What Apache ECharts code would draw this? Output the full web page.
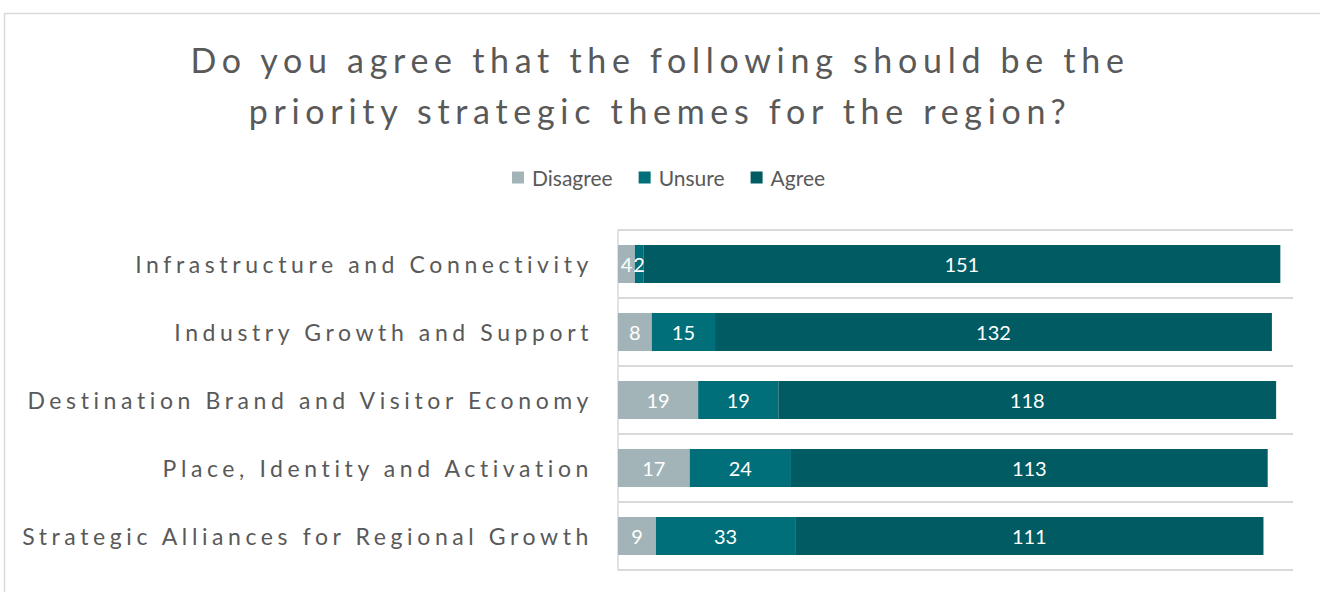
<!DOCTYPE html>
<html>
<head>
<meta charset="utf-8">
<script src="https://cdn.jsdelivr.net/npm/echarts@6/dist/echarts.min.js"></script>
<style>
  html, body { margin: 0; padding: 0; background: #ffffff; }
  #chart { width: 1320px; height: 592px; }
  /* tracked-out type for the title and the category labels */
  #chart text[style*="34px"] { letter-spacing: 5.7px; }
  #chart text[style*="23px"] { letter-spacing: 4.6px; }
</style>
</head>
<body>
<div id="chart"></div>
<script>
const titleText = 'Do you agree that the following should be the\npriority strategic themes for the region?';
const categories = [
  'Infrastructure and Connectivity',
  'Industry Growth and Support',
  'Destination Brand and Visitor Economy',
  'Place, Identity and Activation',
  'Strategic Alliances for Regional Growth'
];
const disagree = [4, 8, 19, 17, 9];
const unsure = [2, 15, 19, 24, 33];
const agree = [151, 132, 118, 113, 111];
const seriesNames = ['Disagree', 'Unsure', 'Agree'];
const seriesColors = ['#A2B4B7', '#006F79', '#015B63'];

const FONT = 'Lato, "Open Sans", sans-serif';
const TEXT_COLOR = '#595959';
const GRID_COLOR = '#D9D9D9';

const chart = echarts.init(document.getElementById('chart'), null, { renderer: 'svg' });

function barSeries(name, values, color) {
  return {
    name: name,
    type: 'bar',
    stack: 'total',
    barWidth: 38,
    data: values,
    itemStyle: { color: color },
    label: {
      show: true,
      position: 'inside',
      color: '#ffffff',
      fontFamily: FONT,
      fontSize: 20
    },
    emphasis: { disabled: true }
  };
}

chart.setOption({
  animation: false,
  backgroundColor: '#ffffff',
  graphic: [{
    type: 'rect',
    left: 2,
    top: 11,
    shape: { width: 1400, height: 700 },
    style: { fill: 'none', stroke: GRID_COLOR, lineWidth: 1.5 },
    silent: true
  }],
  title: {
    text: titleText,
    left: 'center',
    top: 29,
    textStyle: {
      fontFamily: FONT,
      fontSize: 34,
      fontWeight: 'normal',
      color: TEXT_COLOR,
      lineHeight: 51
    }
  },
  legend: {
    data: seriesNames,
    top: 162,
    left: 507,
    itemWidth: 12,
    itemHeight: 12,
    itemGap: 26,
    icon: 'rect',
    textStyle: {
      fontFamily: FONT,
      fontSize: 21,
      color: TEXT_COLOR,
      padding: [0, 0, 0, 3]
    }
  },
  grid: {
    left: 618,
    right: 27,
    top: 230,
    bottom: 22,
    containLabel: false
  },
  xAxis: {
    type: 'value',
    min: 0,
    max: 160,
    axisLine: { show: false },
    axisTick: { show: false },
    axisLabel: { show: false },
    splitLine: { show: false }
  },
  yAxis: {
    type: 'category',
    data: categories,
    inverse: true,
    axisLine: { show: true, lineStyle: { color: GRID_COLOR, width: 1.5 } },
    axisTick: { show: false },
    axisLabel: {
      fontFamily: FONT,
      fontSize: 23,
      color: TEXT_COLOR,
      margin: 25
    },
    splitLine: { show: true, lineStyle: { color: GRID_COLOR, width: 2 } }
  },
  series: [
    barSeries(seriesNames[0], disagree, seriesColors[0]),
    barSeries(seriesNames[1], unsure, seriesColors[1]),
    barSeries(seriesNames[2], agree, seriesColors[2])
  ]
});
</script>
</body>
</html>
